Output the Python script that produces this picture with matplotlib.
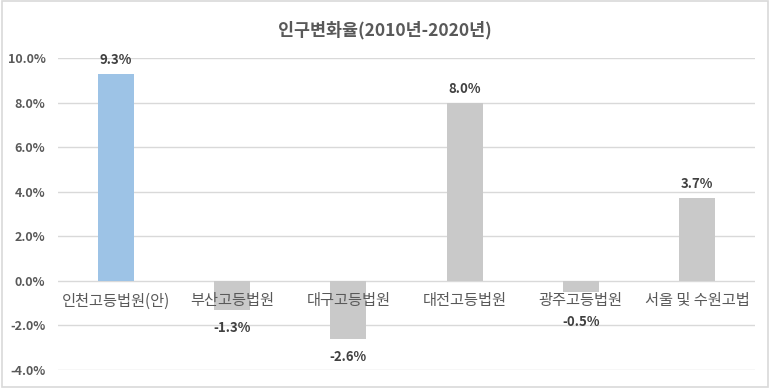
import matplotlib
matplotlib.use("Agg")
import matplotlib.pyplot as plt
from matplotlib.patches import Rectangle

plt.rcParams['font.family'] = ['Noto Sans CJK KR', 'DejaVu Sans']

categories = ['인천고등법원(안)', '부산고등법원', '대구고등법원', '대전고등법원', '광주고등법원', '서울 및 수원고법']
values = [9.3, -1.3, -2.6, 8.0, -0.5, 3.7]
bar_colors = ['#9DC3E6', '#C9C9C9', '#C9C9C9', '#C9C9C9', '#C9C9C9', '#C9C9C9']
yticks = [-4, -2, 0, 2, 4, 6, 8, 10]
title = '인구변화율(2010년-2020년)'

fig = plt.figure(figsize=(7.7, 3.88), dpi=100)
fig.patches.append(Rectangle((0.002, 0.003), 0.996, 0.994, transform=fig.transFigure,
                             fill=False, edgecolor='#D9D9D9', linewidth=1.2))
ax = fig.add_axes([0.0753, 0.0464, 0.9052, 0.8041])

x = list(range(len(categories)))
ax.bar(x, values, width=0.31, color=bar_colors, zorder=2)
ax.set_xlim(-0.5, len(categories) - 0.5)
ax.set_ylim(-4, 10)
ax.set_yticks(yticks)
ax.set_yticklabels([f'{t:.1f}%' for t in yticks], fontsize=9, color='#595959', fontweight='bold')
ax.tick_params(axis='y', length=0, pad=9)
ax.set_xticks([])
ax.grid(axis='y', color='#D9D9D9', linewidth=1, zorder=0)
for s in ax.spines.values():
    s.set_visible(False)

for i, c in enumerate(categories):
    ax.annotate(c, (i, 0), xytext=(0, -20), textcoords='offset pixels',
                ha='center', va='center', fontsize=11, color='#595959', zorder=3)

neg_offsets = {1: -18, 2: -18, 4: -30}
for i, v in enumerate(values):
    if v >= 0:
        off = 14
    else:
        off = neg_offsets.get(i, -18)
    ax.annotate(f'{v:.1f}%', (i, v), xytext=(0, off), textcoords='offset pixels',
                ha='center', va='center', fontsize=9.5, fontweight='bold',
                color='#404040', zorder=3)

fig.text(0.5, 0.922, title, ha='center', va='center', fontsize=12.5,
         fontweight='bold', color='#595959')

fig.savefig('out.png', dpi=100)
